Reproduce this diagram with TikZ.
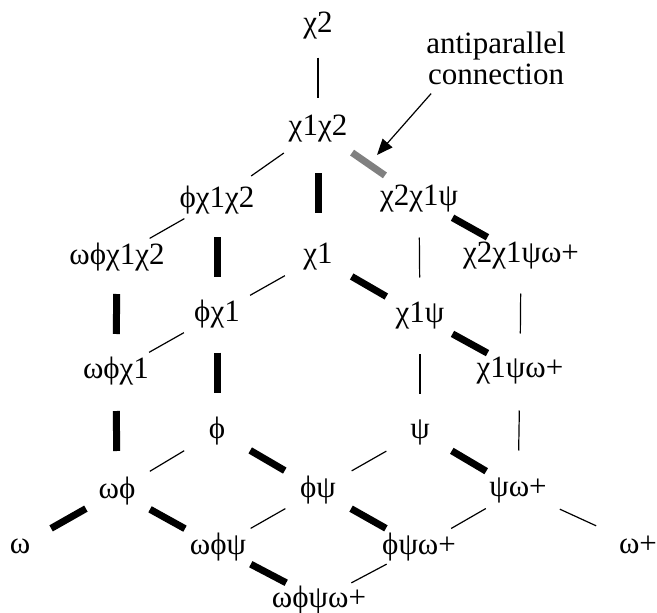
\documentclass[tikz,border=0pt]{standalone}
\usepackage{fontspec}
\setmainfont{Liberation Serif}
\usetikzlibrary{calc,arrows.meta}

\begin{document}
\begin{tikzpicture}
[
    x=1pt, y=-1pt,
    every node/.style={font=\fontsize{31}{31}\selectfont, inner sep=0pt},
    weak/.style={line width=1.2pt},
    strong/.style={line width=7pt},
    anti/.style={line width=7pt, draw=gray},
    pointer/.style={line width=1.2pt, -{Triangle[length=16pt,width=13pt]}},
]
\useasboundingbox (0,0) rectangle (657,613);
\node (chiB) at (318,26) {χ2};
\node (chiAB) at (318,129) {χ1χ2};
\node (phiAB) at (217,200) {ϕχ1χ2};
\node (chiBApsi) at (419,199) {χ2χ1ψ};
\node (wphiAB) at (117,257) {ωϕχ1χ2};
\node (chiA) at (318,257) {χ1};
\node (chiBApsiw) at (521,256) {χ2χ1ψω+};
\node (phiA) at (217,314) {ϕχ1};
\node (chiApsi) at (420,316) {χ1ψ};
\node (wphiA) at (116,371) {ωϕχ1};
\node (chiApsiw) at (520,371) {χ1ψω+};
\node (phi) at (217,431) {ϕ};
\node (psi) at (420,432) {ψ};
\node (wphi) at (117,491) {ωϕ};
\node (phipsi) at (318,490) {ϕψ};
\node (psiw) at (518,490) {ψω+};
\node (w) at (20,546) {ω};
\node (wphipsi) at (218,547) {ωϕψ};
\node (phipsiw) at (419,547) {ϕψω+};
\node (wplus) at (638,545) {ω+};
\node (wphipsiw) at (319,600) {ωϕψω+};
\node (note) [align=center] at (496,58) {antiparallel\\connection};
\coordinate (tip) at (377,155);

\foreach \a/\b in {chiB/chiAB, chiAB/phiAB, phiAB/wphiAB, chiBApsi/chiApsi,
    chiBApsiw/chiApsiw, chiA/phiA, phiA/wphiA, chiApsi/psi, chiApsiw/psiw,
    phi/wphi, psi/phipsi, phipsi/wphipsi, psiw/phipsiw, psiw/wplus,
    phipsiw/wphipsiw}
    \draw[weak] ($(\a)!.5!(\b)!20pt!(\a)$) -- ($(\a)!.5!(\b)!20pt!(\b)$);
\foreach \a/\b in {chiAB/chiA, chiBApsi/chiBApsiw, phiAB/phiA, chiA/chiApsi,
    chiApsi/chiApsiw, wphiAB/wphiA, phiA/phi, wphiA/wphi, phi/phipsi,
    psi/psiw, wphi/w, wphi/wphipsi, phipsi/phipsiw, wphipsi/wphipsiw}
    \draw[strong] ($(\a)!.5!(\b)!20pt!(\a)$) -- ($(\a)!.5!(\b)!20pt!(\b)$);
\draw[anti] ($(chiAB)!.5!(chiBApsi)!20pt!(chiAB)$) -- ($(chiAB)!.5!(chiBApsi)!20pt!(chiBApsi)$);
\draw[pointer] ([xshift=5pt,yshift=-9pt]note.south west) -- (tip);
\end{tikzpicture}
\end{document}
